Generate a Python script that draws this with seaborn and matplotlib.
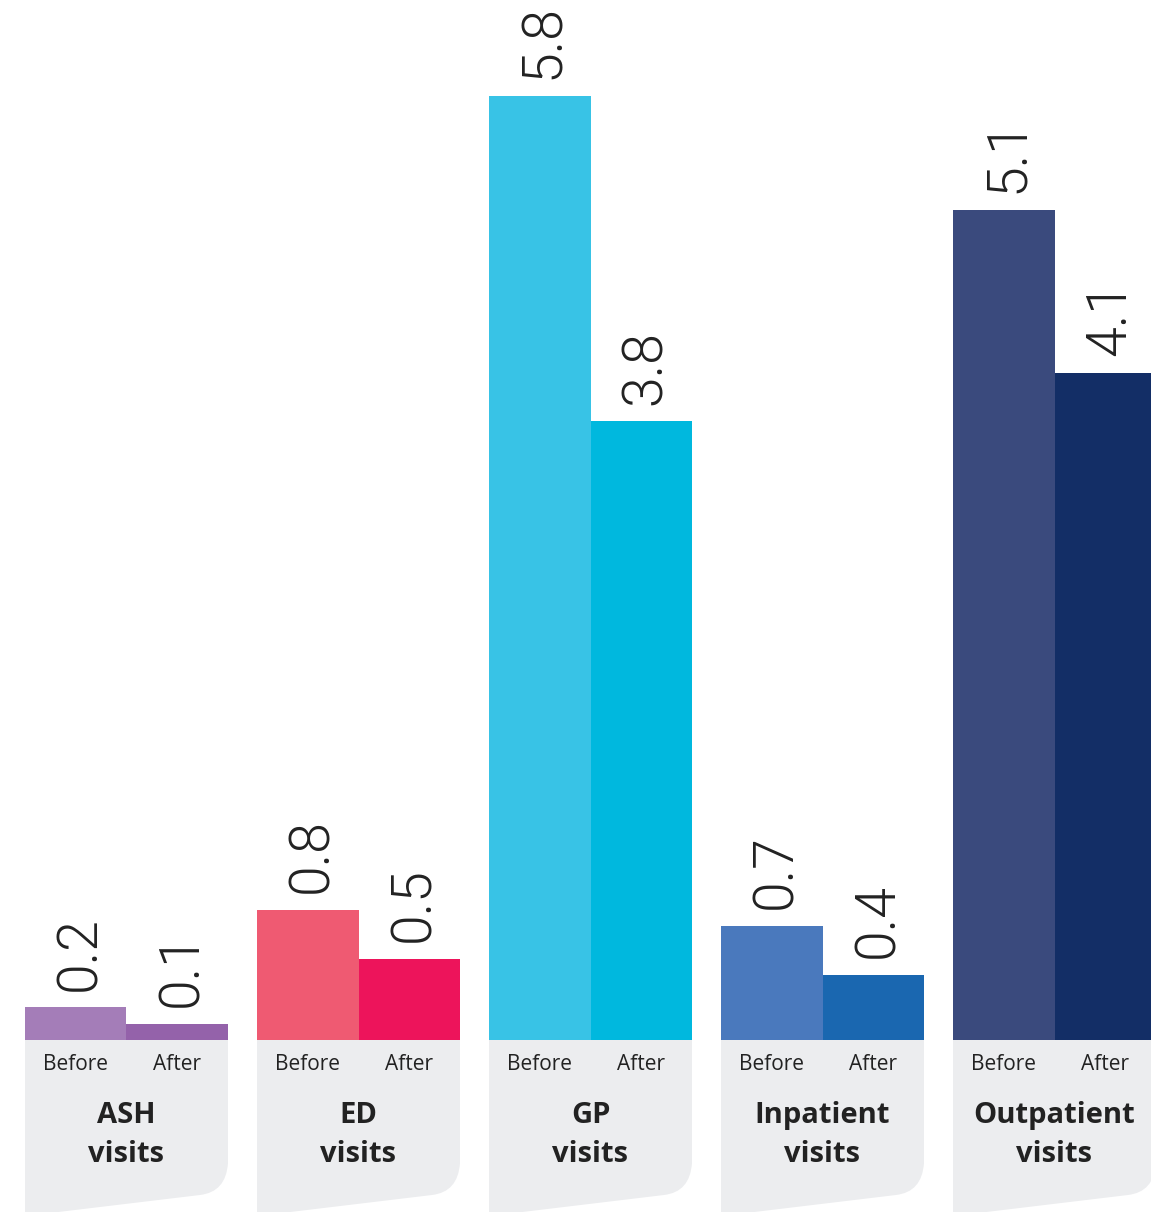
import matplotlib
matplotlib.use("Agg")
import matplotlib.pyplot as plt
import seaborn as sns
import pandas as pd
from matplotlib.path import Path
from matplotlib.patches import PathPatch

# data
categories = ["ASH\nvisits", "ED\nvisits", "GP\nvisits", "Inpatient\nvisits", "Outpatient\nvisits"]
periods = ["Before", "After"]
before_vals = [0.2, 0.8, 5.8, 0.7, 5.1]
after_vals = [0.1, 0.5, 3.8, 0.4, 4.1]
before_colors = ["#A47DB8", "#EF5A72", "#38C3E6", "#4A79BD", "#3A4A7D"]
after_colors = ["#9462AA", "#ED145B", "#00B8DE", "#1A67B0", "#132E66"]

df = pd.DataFrame({
    "category": categories * 2,
    "period": ["Before"] * 5 + ["After"] * 5,
    "value": before_vals + after_vals,
})

sns.set_theme(style="white")
plt.rcParams["font.family"] = ["Open Sans", "DejaVu Sans"]

W, H = 1151, 1212
fig = plt.figure(figsize=(W / 100, H / 100), dpi=100)
ax = fig.add_axes([0, 0, 1, 1])

sns.barplot(data=df, x="category", y="value", hue="period", order=categories,
            hue_order=periods, width=0.875, gap=0, legend=False, ax=ax,
            saturation=1, errorbar=None)

# scale: 232 px per category, 162.8 px per unit
xpx, ypx = 232.0, 162.8
ax.set_xlim(-126.5 / xpx, (W - 126.5) / xpx)
ax.set_ylim(-(H - 1040) / ypx, 1040 / ypx)
ax.axis("off")

for i, bar in enumerate(ax.containers[0]):
    bar.set_facecolor(before_colors[i])
    bar.set_edgecolor("none")
for i, bar in enumerate(ax.containers[1]):
    bar.set_facecolor(after_colors[i])
    bar.set_edgecolor("none")

# grey label boxes under each group
def px(dx):
    return dx / xpx

def py(dy):
    return dy / ypx

for i, cat in enumerate(categories):
    L, R = i - 0.4375, i + 0.4375
    verts = [(L, 0), (R, 0), (R, -py(123)), (R - px(2), -py(152)), (R - px(28), -py(155)),
             (L, -py(176)), (L, 0)]
    codes = [Path.MOVETO, Path.LINETO, Path.LINETO, Path.CURVE3, Path.CURVE3,
             Path.LINETO, Path.CLOSEPOLY]
    ax.add_patch(PathPatch(Path(verts, codes), facecolor="#ECEDEF", edgecolor="none", zorder=0))
    ax.text(i, -py(95), cat, ha="center", va="center", fontsize=21, fontweight="bold",
            color="#222222", linespacing=1.45)

for cont, lab in zip(ax.containers, periods):
    for bar in cont:
        cx = bar.get_x() + bar.get_width() / 2
        ax.text(cx, -py(25), lab, ha="center", va="center", fontsize=15, color="#222222")
        ax.annotate(f"{bar.get_height():.1f}", (cx, bar.get_height()), xytext=(3, 12),
                    textcoords="offset points", rotation=90, ha="center", va="bottom",
                    fontsize=40, fontweight=300, family=["Roboto", "DejaVu Sans"],
                    color="#222222")

fig.savefig("out.png", dpi=100)
